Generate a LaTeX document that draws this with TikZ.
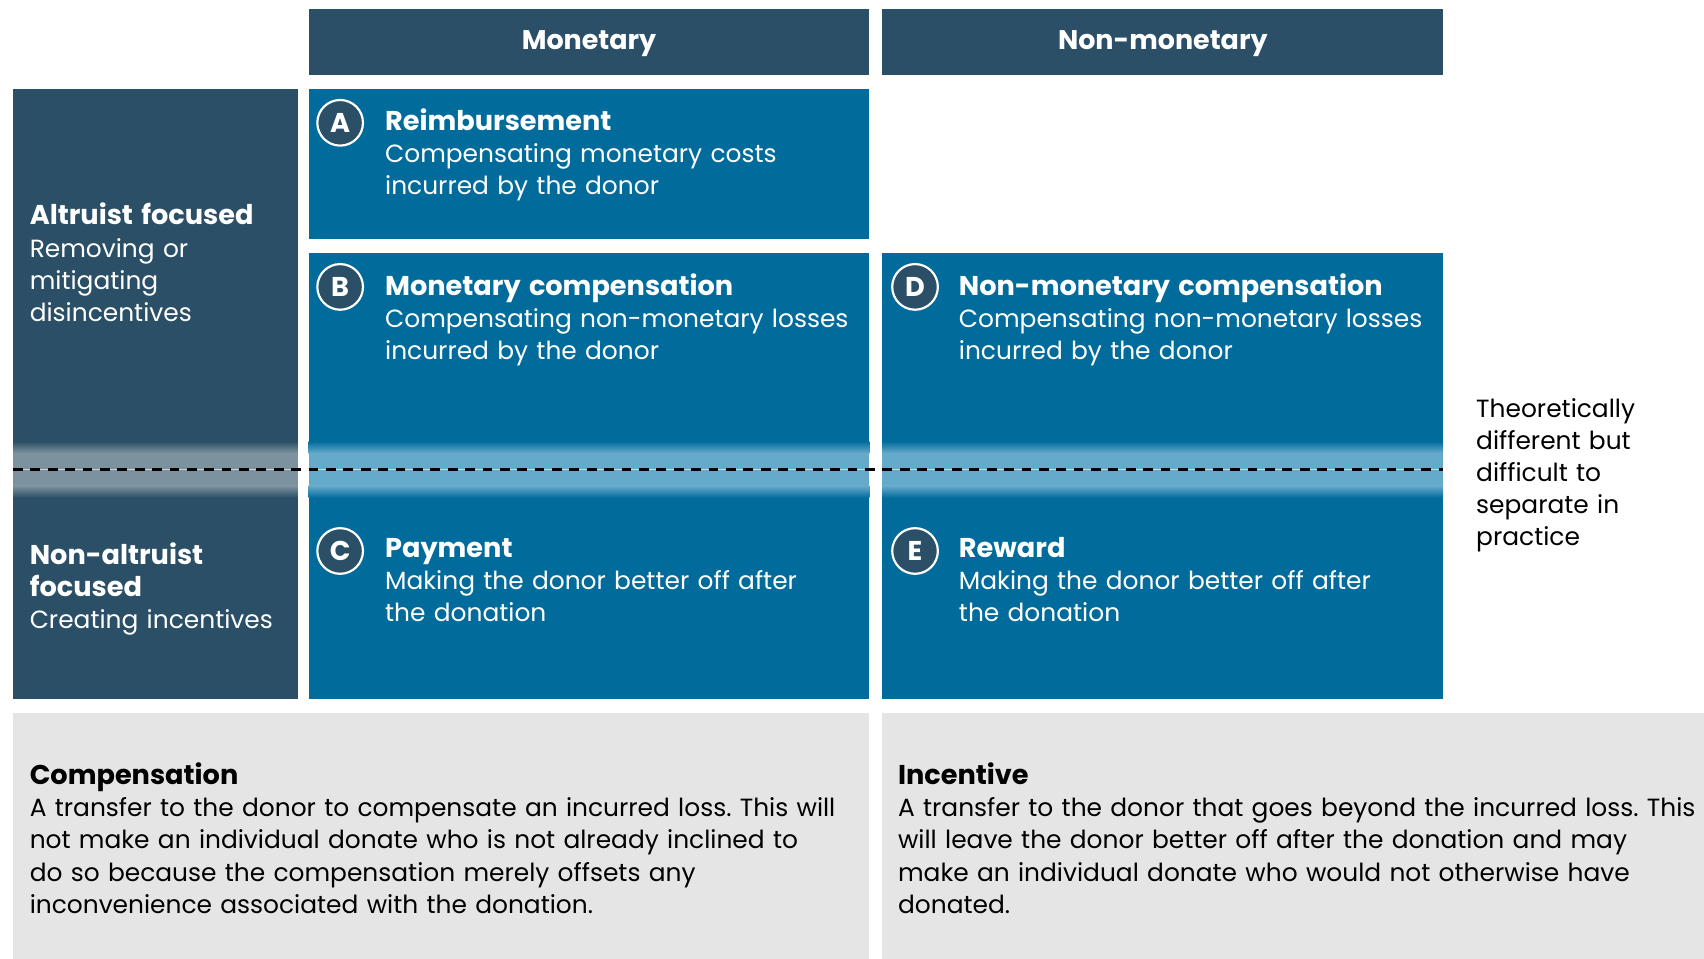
\documentclass[tikz,border=0pt]{standalone}
\usepackage{fontspec}
\setmainfont{Poppins}
\frenchspacing
\definecolor{darkc}{HTML}{2B4F66}
\definecolor{darkband}{HTML}{7D929F}
\definecolor{bluec}{HTML}{016C9B}
\definecolor{blueband}{HTML}{66AACB}
\definecolor{grayc}{HTML}{E5E5E5}
\newcommand\mytitle[1]{{\fontsize{12.5}{14.8}\selectfont\bfseries #1}}
\begin{document}
\begin{tikzpicture}[x=0.5pt,y=-0.5pt,
  bodytext/.style={anchor=base west, inner sep=0pt, align=left, text width=#1,
    font=\fontsize{11.45}{14.8}\selectfont\frenchspacing},
  bodytext/.default=300pt,
  headtext/.style={inner sep=0pt, text=white, font=\bfseries\fontsize{12.4}{14.8}\selectfont},
  letter/.style={circle, fill=darkc, draw=white, line width=1pt, minimum size=21pt,
    inner sep=0pt, text=white, font=\bfseries\fontsize{12.5}{12.5}\selectfont},
  dashline/.style={line width=1.6pt, dash pattern=on 4.5pt off 3.5pt}
]
\useasboundingbox (0,0) rectangle (1568,882);
\fill[white] (0,0) rectangle (1568,882);

% headers
\fill[darkc] (284,8) rectangle (800,69);
\fill[darkc] (812,8) rectangle (1328,69);
\node[headtext] (hmon) at (542,40) {Monetary};
\node[headtext] (hnon) at (1070,40) {Non-monetary};

% left column and cells
\fill[darkc] (12,82) rectangle (274,643);
\fill[bluec] (284,82) rectangle (800,220);
\fill[bluec] (284,233) rectangle (800,643);
\fill[bluec] (812,233) rectangle (1328,643);

% bottom boxes
\fill[grayc] (12,656) rectangle (800,882);
\fill[grayc] (812,656) rectangle (1568,882);

% gradient bands
\foreach \xa/\xb/\ca/\cb in {12/274/darkc/darkband, 284/800/bluec/blueband, 812/1328/bluec/blueband}{
  \shade[top color=\ca, bottom color=\cb] (\xa,406) rectangle (\xb,417);
  \fill[\cb] (\xa,416.5) rectangle (\xb,447.5);
  \shade[top color=\cb, bottom color=\ca] (\xa,447) rectangle (\xb,458);
}

% dashed separator
\coordinate (dl) at (12,432);
\coordinate (dr) at (1328,432);
\draw[white, opacity=0.6, line width=0.4pt] (dl) -- (dr);
\draw[dashline] (dl) -- (dr);

% left column labels
\node[bodytext=125pt, text=white] (alt) at (27,207)
  {\mytitle{Altruist focused}\\Removing or\\mitigating\\disincentives};
\node[bodytext=125pt, text=white] (nonalt) at (27,519)
  {\mytitle{Non-altruist}\\\mytitle{focused}\\Creating incentives};

% letters
\node[letter] (la) at (313,113) {A};
\node[letter] (lb) at (313,264) {B};
\node[letter] (lc) at (313,507) {C};
\node[letter] (ld) at (842,264) {D};
\node[letter] (le) at (842,507) {E};

% cell texts
\node[bodytext, text=white] (ta) at (354,120)
  {\mytitle{Reimbursement}\\Compensating monetary costs\\incurred by the donor};
\node[bodytext, text=white] (tb) at (354,272)
  {\mytitle{Monetary compensation}\\Compensating non-monetary losses\\incurred by the donor};
\node[bodytext, text=white] (tc) at (354,513)
  {\mytitle{Payment}\\Making the donor better off after\\the donation};
\node[bodytext, text=white] (td) at (882,272)
  {\mytitle{Non-monetary compensation}\\Compensating non-monetary losses\\incurred by the donor};
\node[bodytext, text=white] (te) at (882,513)
  {\mytitle{Reward}\\Making the donor better off after\\the donation};

% side note
\node[bodytext=120pt, text=black] (side) at (1358,384)
  {Theoretically\\different but\\difficult to\\separate in\\practice};

% bottom texts
\node[bodytext=420pt, text=black] (comp) at (27,722)
  {\mytitle{Compensation}\\A transfer to the donor to compensate an incurred loss. This will\\not make an individual donate who is not already inclined to\\do so because the compensation merely offsets any\\inconvenience associated with the donation.};
\node[bodytext=420pt, text=black] (inc) at (826,722)
  {\mytitle{Incentive}\\A transfer to the donor that goes beyond the incurred loss. This\\will leave the donor better off after the donation and may\\make an individual donate who would not otherwise have\\donated.};
\end{tikzpicture}
\end{document}
